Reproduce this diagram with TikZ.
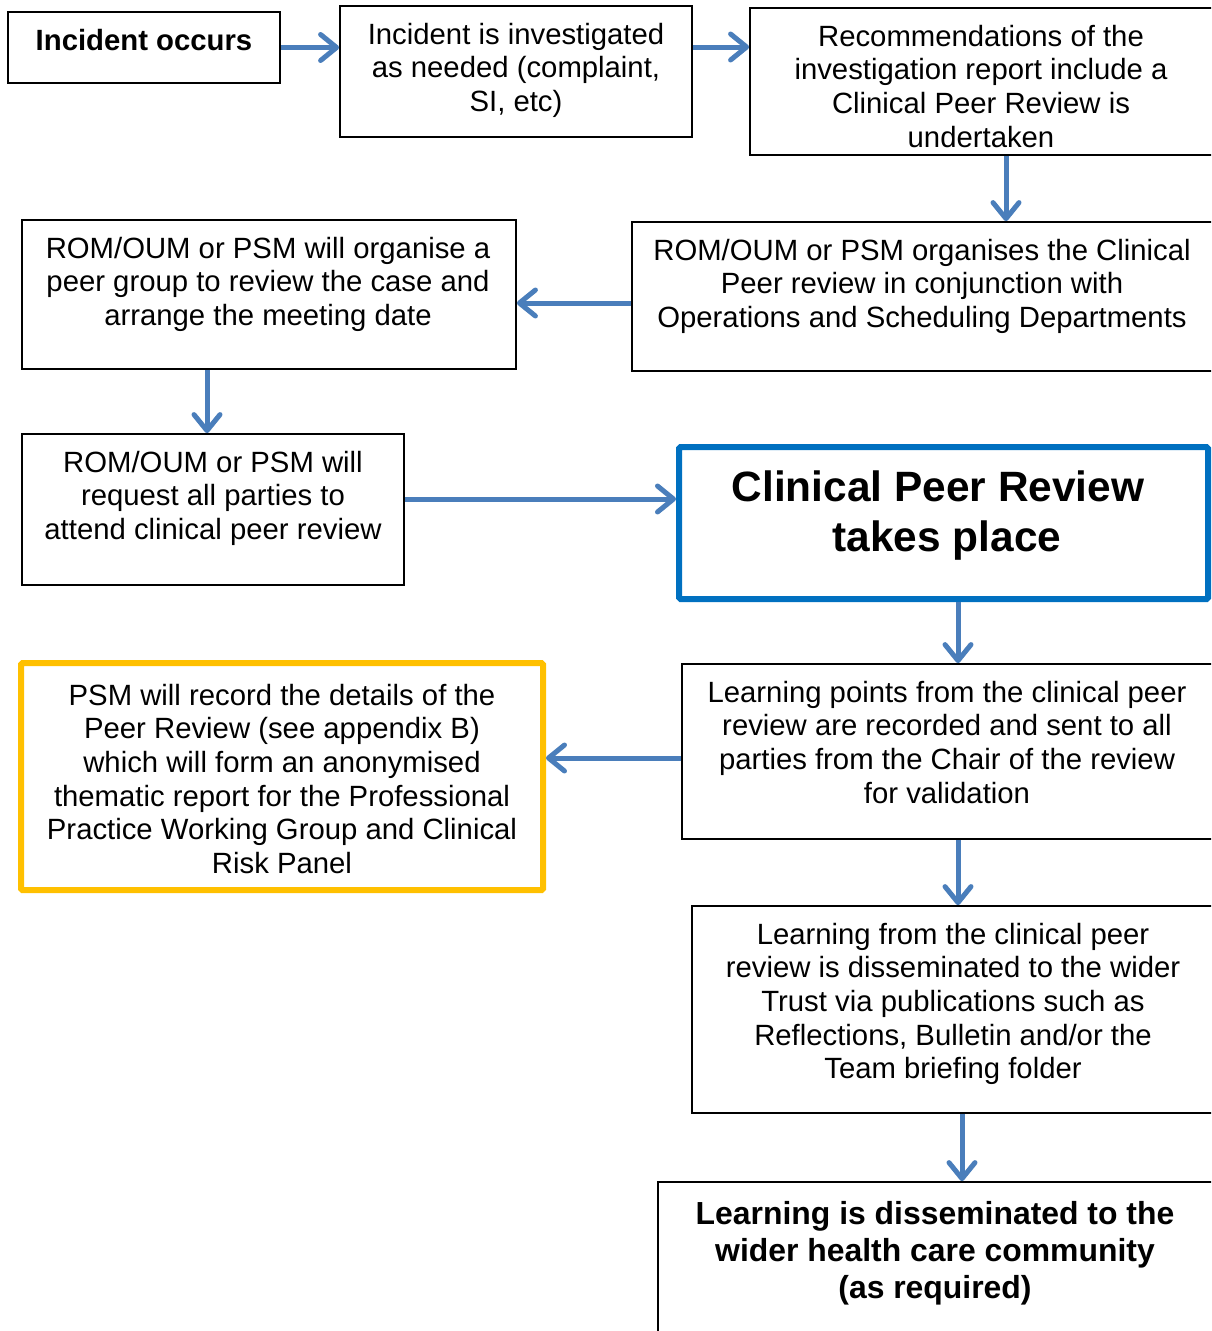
\documentclass[tikz,border=0pt]{standalone}
\usepackage{fontspec}
\setmainfont{Liberation Sans}
\usetikzlibrary{arrows.meta,calc}

\definecolor{ABlue}{HTML}{4A7EBB}
\definecolor{KBlue}{HTML}{0070C0}
\definecolor{KGold}{HTML}{FFC000}

\begin{document}
\begin{tikzpicture}[
  x=1pt, y=-1pt,
  frame/.style={draw=black, line width=1.8pt, inner sep=0pt},
  keyframe/.style={draw=#1, line width=6pt, inner sep=0pt, rounded corners=1.5pt},
  txt/.style={anchor=base, align=center, inner sep=0pt,
    font=\fontsize{29.3}{33.7}\selectfont},
  bigtxt/.style={anchor=base, align=center, inner sep=0pt,
    font=\fontsize{42.4}{50.5}\selectfont\bfseries},
  boldtxt/.style={anchor=base, align=center, inner sep=0pt,
    font=\fontsize{31.9}{37}\selectfont\bfseries},
  flow/.style={-{Straight Barb[length=16pt, width=26pt, line cap=round, line join=round]},
    line width=5pt, draw=ABlue}
]
\useasboundingbox (0,0) rectangle (1211,1331);
\clip (0,0) rectangle (1211,1331);

% frames
\node[frame, minimum width=272, minimum height=71] (occurs) at (144,47.5) {};
\node[frame, minimum width=352, minimum height=131] (inv) at (516,71.5) {};
\node[frame, minimum width=466, minimum height=147] (rec) at (983,81.5) {};
\node[frame, minimum width=584, minimum height=149] (org) at (924,296.5) {};
\node[frame, minimum width=494, minimum height=149] (grp) at (269,294.5) {};
\node[frame, minimum width=382, minimum height=151] (req) at (213,509.5) {};
\node[keyframe=KBlue, minimum width=529, minimum height=152] (cpr) at (943.5,523) {};
\node[frame, minimum width=534, minimum height=175] (pts) at (949,751.5) {};
\node[keyframe=KGold, minimum width=522, minimum height=227] (psm) at (282,776.5) {};
\node[frame, minimum width=524, minimum height=207] (dis) at (954,1009.5) {};
\node[frame, minimum width=558, minimum height=170] (wider) at (937,1267) {};

% texts (anchored on the baseline of the last line)
\node[txt, font=\fontsize{29.3}{33.7}\selectfont\bfseries] (occursT) at (144,50) {Incident occurs};
\node[txt] (invT) at (516,111.4) {Incident is investigated\\as needed (complaint,\\SI, etc)};
\node[txt] (recT) at (981,147.1) {Recommendations of the\\investigation report include a\\Clinical Peer Review is\\undertaken};
\node[txt] (orgT) at (922,327.4) {ROM/OUM or PSM organises the Clinical\\Peer review in conjunction with\\Operations and Scheduling Departments};
\node[txt] (grpT) at (268,325.4) {ROM/OUM or PSM will organise a\\peer group to review the case and\\arrange the meeting date};
\node[txt] (reqT) at (213,539.4) {ROM/OUM or PSM will\\request all parties to\\attend clinical peer review};
\node[bigtxt] (cprT) at (938,551.5) {Clinical Peer Review\\\hspace*{18pt}takes place};
\node[txt] (ptsT) at (947,803.1) {Learning points from the clinical peer\\review are recorded and sent to all\\parties from the Chair of the review\\for validation};
\node[txt] (psmT) at (282,873.5) {PSM will record the details of the\\Peer Review (see appendix B)\\which will form an anonymised\\thematic report for the Professional\\Practice Working Group and Clinical\\Risk Panel};
\node[txt] (disT) at (953,1078.8) {Learning from the clinical peer\\review is disseminated to the wider\\Trust via publications such as\\Reflections, Bulletin and/or the\\Team briefing folder};
\node[boldtxt] (widerT) at (935,1298) {Learning is disseminated to the\\wider health care community\\(as required)};

% connectors
\draw[flow] (occurs.east) -- (occurs.east -| inv.west);
\draw[flow] ($(inv.east)+(0,-24.5)$) coordinate (a2) -- (a2 -| rec.west);
\draw[flow] ($(rec.south)+(23,0)$) coordinate (a3) -- (a3 |- org.north);
\draw[flow] ($(org.west)+(0,6.5)$) coordinate (a4) -- (a4 -| grp.east);
\draw[flow] ($(grp.south)+(-62,0)$) coordinate (a5) -- (a5 |- req.north);
\draw[flow] ($(req.east)+(0,-10.5)$) coordinate (a6) -- (a6 -| cpr.west);
\draw[flow] ($(cpr.south)+(14.5,0)$) coordinate (a7) -- (a7 |- pts.north);
\draw[flow] ($(pts.west)+(0,6.5)$) coordinate (a8) -- (a8 -| psm.east);
\draw[flow] ($(pts.south)+(9,0)$) coordinate (a9) -- (a9 |- dis.north);
\draw[flow] ($(dis.south)+(8,0)$) coordinate (a10) -- (a10 |- wider.north);
\end{tikzpicture}
\end{document}
